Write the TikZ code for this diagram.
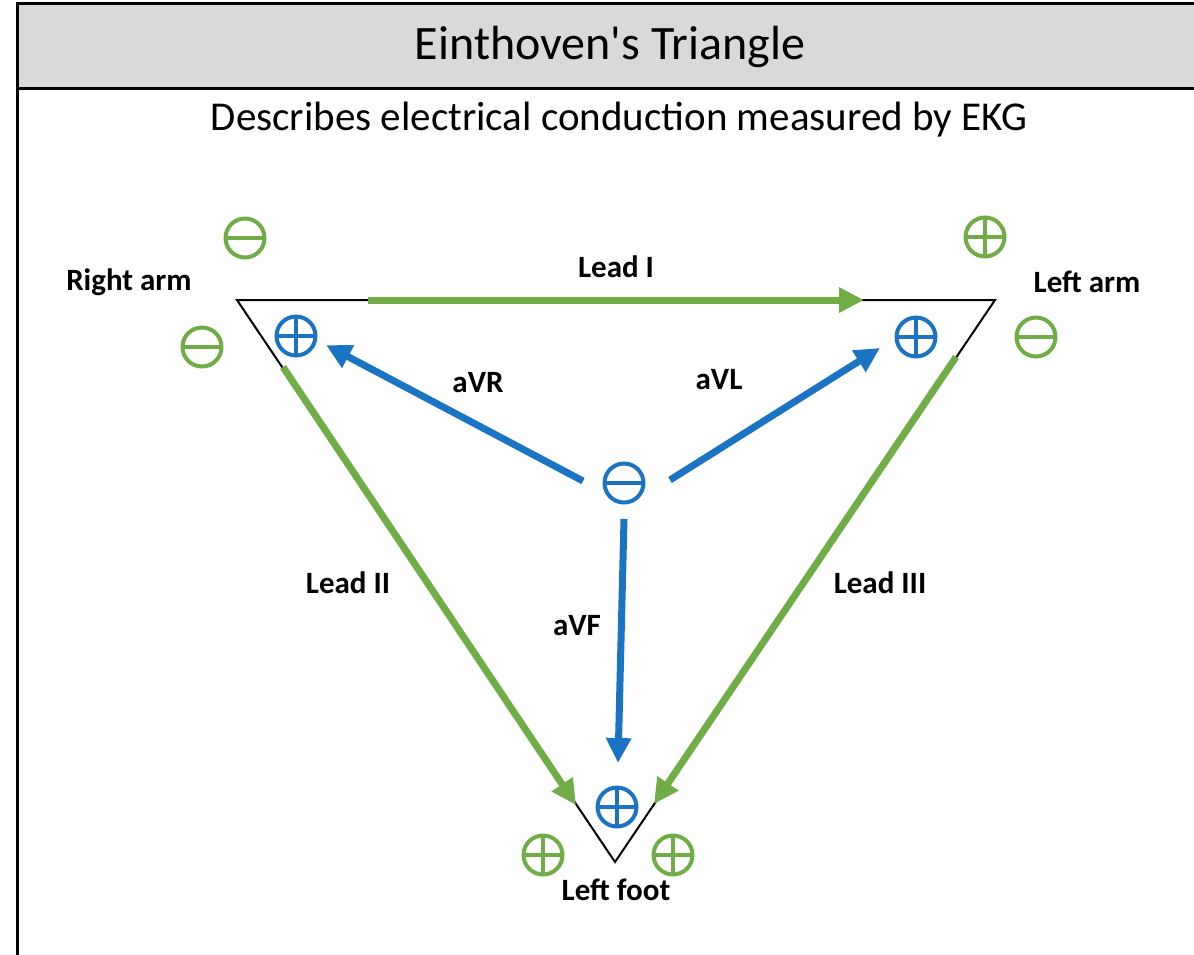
\documentclass[tikz,border=0pt]{standalone}
\usepackage{fontspec}
\setmainfont{Carlito}[Ligatures=TeXOff]
\usetikzlibrary{arrows.meta}
\definecolor{lgreen}{HTML}{70AD47}
\definecolor{lblue}{HTML}{1B74C3}
\definecolor{hdrgray}{HTML}{D9D9D9}
\tikzset{
  symbase/.style={circle,draw=#1,line width=4pt,minimum size=39pt,inner sep=0pt},
  negsym/.style={symbase=#1,path picture={\draw[#1,line width=4pt] (path picture bounding box.west) -- (path picture bounding box.east);}},
  possym/.style={symbase=#1,path picture={\draw[#1,line width=4pt] (path picture bounding box.west) -- (path picture bounding box.east) (path picture bounding box.north) -- (path picture bounding box.south);}},
  lbl/.style={font=\fontsize{31}{36}\selectfont\bfseries,inner sep=0pt},
  garrow/.style={draw=lgreen,line width=7pt,-{Triangle[length=25pt,width=24pt]}},
  barrow/.style={draw=lblue,line width=7pt,-{Triangle[length=25pt,width=24pt]}},
}
\begin{document}
\begin{tikzpicture}[x=1pt,y=-1pt]
\useasboundingbox (0,0) rectangle (1194,954);
% frame
\fill[hdrgray] (17.5,3) rectangle (1200,88);
\draw[line width=3pt] (1200,3) -- (17.5,3) -- (17.5,960);
\draw[line width=3pt] (17.5,88) -- (1200,88);
\node[font=\fontsize{48}{56}\selectfont] (title) at (610,47) {Einthoven's Triangle};
\node[font=\fontsize{41}{48}\selectfont] (sub) at (619,120) {Describes electrical conduction measured by EKG};
% triangle
\coordinate (ra) at (237,300);
\coordinate (la) at (995,300);
\coordinate (lf) at (615,862);
\draw[line width=2pt] (ra) -- (la) -- (lf) -- cycle;
% labels
\node[lbl] (rat) at (129,282) {Right arm};
\node[lbl] (lat) at (1087,282) {Left arm};
\node[lbl] (l1t) at (616,267) {Lead I};
\node[lbl] (avrt) at (478,383) {aVR};
\node[lbl] (avlt) at (719,380) {aVL};
\node[lbl] (l2t) at (348,583) {Lead II};
\node[lbl] (l3t) at (880,583) {Lead III};
\node[lbl] (avft) at (577,626) {aVF};
\node[lbl] (lft) at (616,890) {Left foot};
% green symbols
\node[negsym=lgreen] (g1) at (245,238) {};
\node[negsym=lgreen] (g2) at (202,347) {};
\node[possym=lgreen] (g3) at (985,237) {};
\node[negsym=lgreen] (g4) at (1036,337) {};
\node[possym=lgreen] (g5) at (543,855) {};
\node[possym=lgreen] (g6) at (673,855) {};
% blue symbols
\node[possym=lblue] (b1) at (296,336) {};
\node[possym=lblue] (b2) at (916,337) {};
\node[possym=lblue] (b3) at (617,807) {};
\node[negsym=lblue] (b0) at (624,483) {};
% lead arrows
\coordinate (l1s) at (368,300);
\coordinate (l1e) at (864,300);
\coordinate (l2s) at (283,367);
\coordinate (l2e) at (576,805);
\coordinate (l3s) at (956,357);
\coordinate (l3e) at (654,804);
\draw[garrow] (l1s) -- (l1e);
\draw[garrow] (l2s) -- (l2e);
\draw[garrow] (l3s) -- (l3e);
% augmented arrows
\coordinate (avrs) at (583,481);
\coordinate (avre) at (326,345);
\coordinate (avls) at (670,480);
\coordinate (avle) at (880,348);
\coordinate (avfs) at (624,519);
\coordinate (avfe) at (618,763);
\draw[barrow] (avrs) -- (avre);
\draw[barrow] (avls) -- (avle);
\draw[barrow] (avfs) -- (avfe);
\end{tikzpicture}
\end{document}
